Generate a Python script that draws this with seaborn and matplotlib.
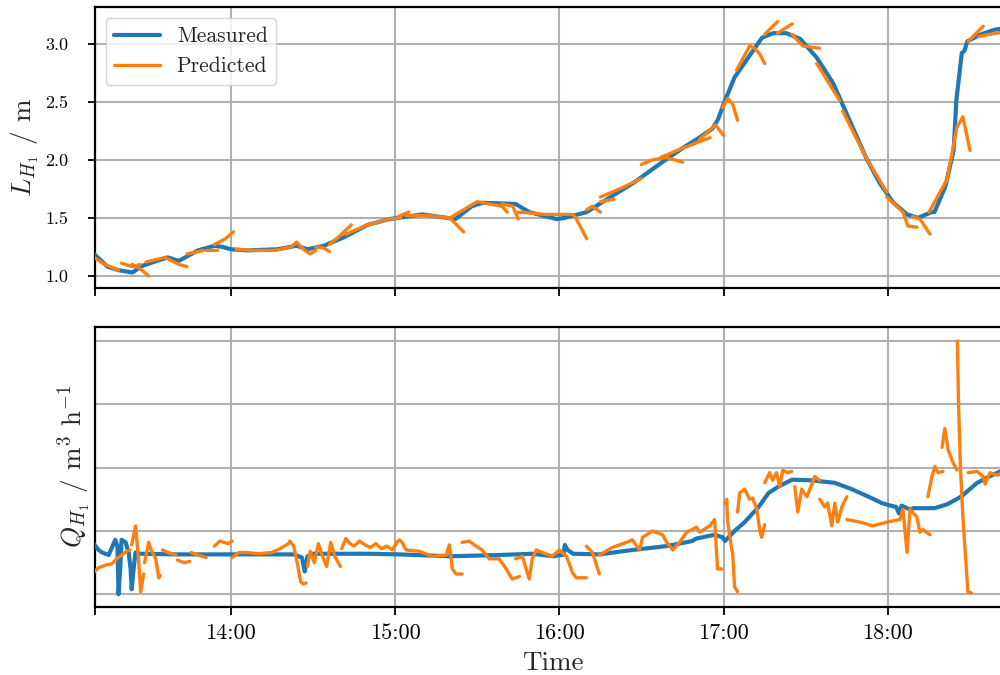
import numpy as np
import pandas as pd
import matplotlib
matplotlib.use("Agg")
import matplotlib.pyplot as plt
import matplotlib.dates as mdates
from matplotlib.lines import Line2D
import seaborn as sns

# ---------------- data (time in minutes after 13:00) ----------------
meas_L_t = [10, 15, 19, 24, 28, 33, 37, 41, 48, 54, 57, 60, 66, 77, 84, 88, 94, 101, 110, 118,
            124, 130, 136, 142, 148, 152, 164, 169, 179, 182, 190, 198, 207, 217, 225, 231, 236, 238, 240, 244,
            249, 254, 258, 263, 268, 274, 280, 286, 292, 297, 302, 307, 311, 316, 317, 321, 324, 325, 327, 328,
            329, 334, 339, 345]
meas_L_v = [1.19, 1.08, 1.05, 1.03, 1.09, 1.13, 1.16, 1.13, 1.22, 1.26, 1.25, 1.23, 1.22, 1.23, 1.26, 1.23, 1.26, 1.33, 1.44, 1.49,
            1.51, 1.53, 1.51, 1.49, 1.60, 1.63, 1.62, 1.55, 1.49, 1.50, 1.55, 1.67, 1.80, 1.97, 2.10, 2.19, 2.27, 2.35, 2.48, 2.71,
            2.88, 3.05, 3.09, 3.09, 3.04, 2.88, 2.66, 2.34, 2.02, 1.80, 1.63, 1.53, 1.50, 1.55, 1.55, 1.77, 2.08, 2.51, 2.92, 2.94,
            3.02, 3.08, 3.12, 3.14]

pred_L_t = [[10, 14, 19], [20, 24, 27], [24, 27, 30], [29, 36, 41, 44], [44, 48, 50], [51, 55],
            [54, 58, 61], [62, 68, 76, 82, 84], [84, 87, 89, 91], [91, 94, 96], [96, 100, 104],
            [102, 110, 118, 122], [121, 125], [124, 132, 140, 145], [140, 150, 159, 161], [159, 163, 165],
            [165, 175, 185, 186, 190], [190, 192, 195], [195, 200], [195, 203, 210], [210, 214, 219, 225],
            [217, 225, 235], [231, 237, 240], [239.6, 241.5, 243.3, 245.1], [244.7, 249.5, 251.3, 253.2, 255],
            [255, 259.7], [259.7, 265], [265, 268.9, 275], [274, 280, 282.4], [283.5, 292, 299.6],
            [299.6, 305.5, 307.3, 310.6], [309, 311.7, 315.4], [315, 321.6, 325.2, 327.4, 330],
            [329.3, 334.8], [333, 337, 345]]
pred_L_v = [[1.16, 1.10, 1.05], [1.11, 1.08, 1.10], [1.10, 1.06, 1.00], [1.12, 1.16, 1.10, 1.08], [1.19, 1.21, 1.22], [1.22, 1.22],
            [1.27, 1.32, 1.38], [1.23, 1.22, 1.22, 1.25, 1.29], [1.29, 1.22, 1.19, 1.22], [1.25, 1.24, 1.21], [1.27, 1.35, 1.44],
            [1.36, 1.44, 1.49, 1.50], [1.51, 1.55], [1.52, 1.52, 1.50, 1.38], [1.50, 1.64, 1.60, 1.55], [1.62, 1.60, 1.49],
            [1.55, 1.53, 1.53, 1.50, 1.32], [1.57, 1.60, 1.55], [1.64, 1.66], [1.68, 1.76, 1.84], [1.96, 2.00, 2.02, 1.98],
            [2.02, 2.10, 2.19], [2.17, 2.30, 2.21], [2.45, 2.53, 2.48, 2.34], [2.77, 2.98, 2.96, 2.91, 2.83],
            [3.08, 3.19], [3.09, 3.17], [3.08, 2.98, 2.96], [2.83, 2.60, 2.51], [2.42, 2.02, 1.72],
            [1.68, 1.55, 1.43, 1.42], [1.51, 1.49, 1.36], [1.55, 1.83, 2.28, 2.37, 2.08],
            [3.02, 3.15], [3.06, 3.08, 3.11]]

meas_Q_t = [9.9, 11.7, 13, 15.4, 17.8, 18.6, 19.0, 19.6, 20.1, 21.6, 22.7, 23.4, 23.8, 24.5, 25.2, 27, 40, 60, 83, 86,
            87, 88, 90, 110, 121.5, 140, 158, 170, 178, 180, 181.5, 182, 183, 185, 194.6, 206.7, 219, 228.5, 230, 236.7,
            239.6, 240.5, 244, 247.7, 252.8, 256.4, 260, 265, 272, 280.6, 286.8, 293, 297.8, 301, 303, 304, 305, 308, 309.5, 313,
            317, 321.6, 326.7, 332.6, 338, 345]
meas_Q_v = [40, 35, 33, 31, 43, 38, 0, 20, 43, 41, 33, 20, 4, 20, 33, 32, 31.5, 31.5, 31.5, 29,
            18, 30, 32, 32, 31.5, 30, 31, 32, 30, 31, 31, 39, 35, 32, 31.5, 35, 38, 42, 44, 47,
            45, 42, 50, 57, 69, 80, 85, 90.5, 90, 88, 83, 77, 72, 70, 69, 64, 70, 67, 68, 68,
            68, 71, 77, 88, 94, 101]

pred_Q_t = [[9.9, 11.7, 14.3, 16.5, 18.3, 20.1, 22.0, 23.1], [23.8, 25.2, 26.3, 27.1, 28.2],
            [28.5, 30, 31.1, 32.6, 33.7, 34.2], [35, 37, 40], [40.5, 43, 45], [45.5, 48, 51],
            [54, 56, 59, 60.5], [60.5, 63, 66, 70, 75, 78, 81], [81.5, 83, 84.5, 85.5, 86.5, 87.5],
            [88, 89, 90.5, 92, 93.5, 95, 96.5, 98, 100],
            [100.5, 102, 103.5, 105, 107, 109, 111, 113, 115, 117, 119, 121],
            [121.5, 122.6, 124, 128.8, 133.5, 138.7, 139.8, 140.9, 142.3, 144.5],
            [144.5, 147.1, 149.6, 151.8, 154.4, 158, 160.6, 162.8, 165.4],
            [164, 166.5, 169, 170.1, 171.6, 173.8, 177.5, 180, 182.6, 184.8, 186.2, 189.9],
            [189.9, 192.1, 194.6],
            [194.6, 199.4, 204.5, 206.7, 209.3, 210.4, 214, 217.7, 219.2, 221.4, 223.9, 226.5, 230.1, 231.2, 234.9, 236.7, 237.8, 239.3],
            [240.4, 241.1, 241.5, 243, 243.3, 244, 245.1],
            [245.1, 245.9, 247.7, 249.5, 250.6, 252.1, 253.2, 253.9, 255],
            [255, 256.8, 257.9, 259.3, 260.5, 261.6, 263.4, 264.9],
            [266, 267.1, 268.5, 270.4, 271.5, 273.3, 275.1],
            [275.1, 277, 278, 279.5, 280.6, 281.7, 283.2, 285],
            [285, 289.8, 294.5, 299.6, 304.4],
            [304.4, 305.5, 307, 308.1, 310.6, 311.7, 312.8, 315.4],
            [314.6, 316.1, 317.2, 318.3, 320.1],
            [319.8, 320.8, 322, 323.8, 325.2],
            [325.4, 325.8, 326.5, 327.4, 328.5, 329.2, 330.5],
            [329.3, 332.6, 334.8, 335.5, 337.3, 339.9, 345]]
pred_Q_v = [[17, 21, 23, 24, 28, 31, 34, 35], [39, 54, 28, 2, 16],
            [25, 41, 34, 28, 13, 15], [35, 33, 31], [27, 25, 26], [33, 31, 29],
            [38, 42, 40, 42], [29, 33, 33, 32, 33, 36, 40], [42, 38, 22, 10, 8, 9],
            [22, 34, 25, 40, 30, 22, 41, 30, 22],
            [36, 44, 40, 38, 42, 39, 37, 40, 36, 38, 35, 42],
            [43, 41, 35, 34, 30, 31, 39, 20, 16, 16],
            [41, 42, 38, 35, 28, 28, 20, 12, 14],
            [28, 30, 12, 28, 35, 33, 30, 35, 30, 17, 13, 13],
            [38, 33, 16],
            [31, 37, 41, 43, 35, 45, 50, 47, 41, 35, 41, 49, 53, 49, 54, 59, 20, 20],
            [72, 75, 57, 35, 33, 6, 2],
            [65, 80, 83, 75, 76, 67, 51, 45, 55],
            [88, 96, 90, 96, 85, 98, 96, 97],
            [85, 65, 83, 77, 83, 93, 90],
            [75, 69, 72, 54, 72, 57, 69, 77],
            [59, 57, 54, 57, 59],
            [59, 67, 33, 67, 61, 49, 51, 47],
            [77, 93, 101, 96, 97],
            [116, 131, 114, 104, 98],
            [200, 150, 100, 61, 25, 2, 1],
            [96, 97, 93, 87, 96, 94, 99]]

hour_ticks = ["14:00", "15:00", "16:00", "17:00", "18:00"]
series_labels = ["Measured", "Predicted"]
q_grid = [0, 50, 100, 150, 200]
l_ticks = [1.0, 1.5, 2.0, 2.5, 3.0]

# ---------------- helpers ----------------
base = pd.Timestamp("2000-01-01 13:00")


def to_time(mins):
    return base + pd.to_timedelta(np.asarray(mins, dtype=float), unit="min")


def seg_frame(ts, vs):
    rows = []
    for i, (t, v) in enumerate(zip(ts, vs)):
        rows.append(pd.DataFrame({"time": to_time(t), "value": v, "seg": i}))
    return pd.concat(rows, ignore_index=True)


mL = pd.DataFrame({"time": to_time(meas_L_t), "value": meas_L_v})
mQ = pd.DataFrame({"time": to_time(meas_Q_t), "value": meas_Q_v})
pL = seg_frame(pred_L_t, pred_L_v)
pQ = seg_frame(pred_Q_t, pred_Q_v)

# ---------------- style ----------------
sns.set_style("ticks")
plt.rcParams.update({
    "font.family": "serif",
    "font.serif": ["cmr10", "DejaVu Serif"],
    "mathtext.fontset": "cm",
    "axes.formatter.use_mathtext": True,
    "axes.unicode_minus": False,
    "axes.edgecolor": "black",
    "axes.linewidth": 1.6,
    "xtick.color": "black",
    "ytick.color": "black",
})

BLUE = "#1f77b4"
ORANGE = "#ff7f0e"
LW_M = 3.0
LW_P = 2.4

fig = plt.figure(figsize=(10, 6.75), dpi=100)
ax1 = fig.add_axes([0.095, 0.5729, 0.915, 0.4163])
ax2 = fig.add_axes([0.095, 0.1012, 0.915, 0.4148], sharex=ax1)

for ax, m, p in ((ax1, mL, pL), (ax2, mQ, pQ)):
    sns.lineplot(data=m, x="time", y="value", ax=ax, color=BLUE, lw=LW_M, zorder=3)
    sns.lineplot(data=p, x="time", y="value", units="seg", estimator=None, ax=ax,
                 color=ORANGE, lw=LW_P, zorder=4)
    ax.grid(True, color="#b0b0b0", lw=1.5)
    ax.set_axisbelow(True)
    ax.spines["right"].set_visible(False)
    ax.set_xlabel("")

x0 = to_time([10.4])[0]
x1 = to_time([344.6])[0]
ax1.set_xlim(x0, x1)
tick_pos = [x0] + [pd.Timestamp("2000-01-01 " + h) for h in hour_ticks]
ax2.set_xticks(tick_pos)
ax2.set_xticklabels([""] + hour_ticks)
ax1.tick_params(axis="x", labelbottom=False)
for ax in (ax1, ax2):
    ax.tick_params(axis="x", length=6, width=1.3, labelsize=16, pad=6)

ax1.set_ylim(0.894, 3.313)
ax1.set_yticks(l_ticks)
ax1.set_yticklabels([f"{v:.1f}" for v in l_ticks])
ax1.tick_params(axis="y", length=5, width=1.3, labelsize=13, pad=14)
ax1.set_ylabel(r"$L_{H_1}$ / m", fontsize=19.5, labelpad=3)

ax2.set_ylim(-9.8, 211.3)
ax2.set_yticks(q_grid)
ax2.set_yticklabels([])
ax2.tick_params(axis="y", length=0)
ax2.set_ylabel(r"$Q_{H_1}$ / m$^3$ h$^{-1}$", fontsize=19.5, labelpad=-2)
ax2.set_xlabel("Time", fontsize=19.5, labelpad=6)

handles = [Line2D([], [], color=BLUE, lw=LW_M), Line2D([], [], color=ORANGE, lw=LW_P)]
ax1.legend(handles, series_labels, loc="upper left", fontsize=15.5, frameon=True,
           fancybox=True, edgecolor="#cccccc", framealpha=0.8, borderaxespad=0.5,
           handlelength=2.1)

fig.savefig("out.png", dpi=100)
